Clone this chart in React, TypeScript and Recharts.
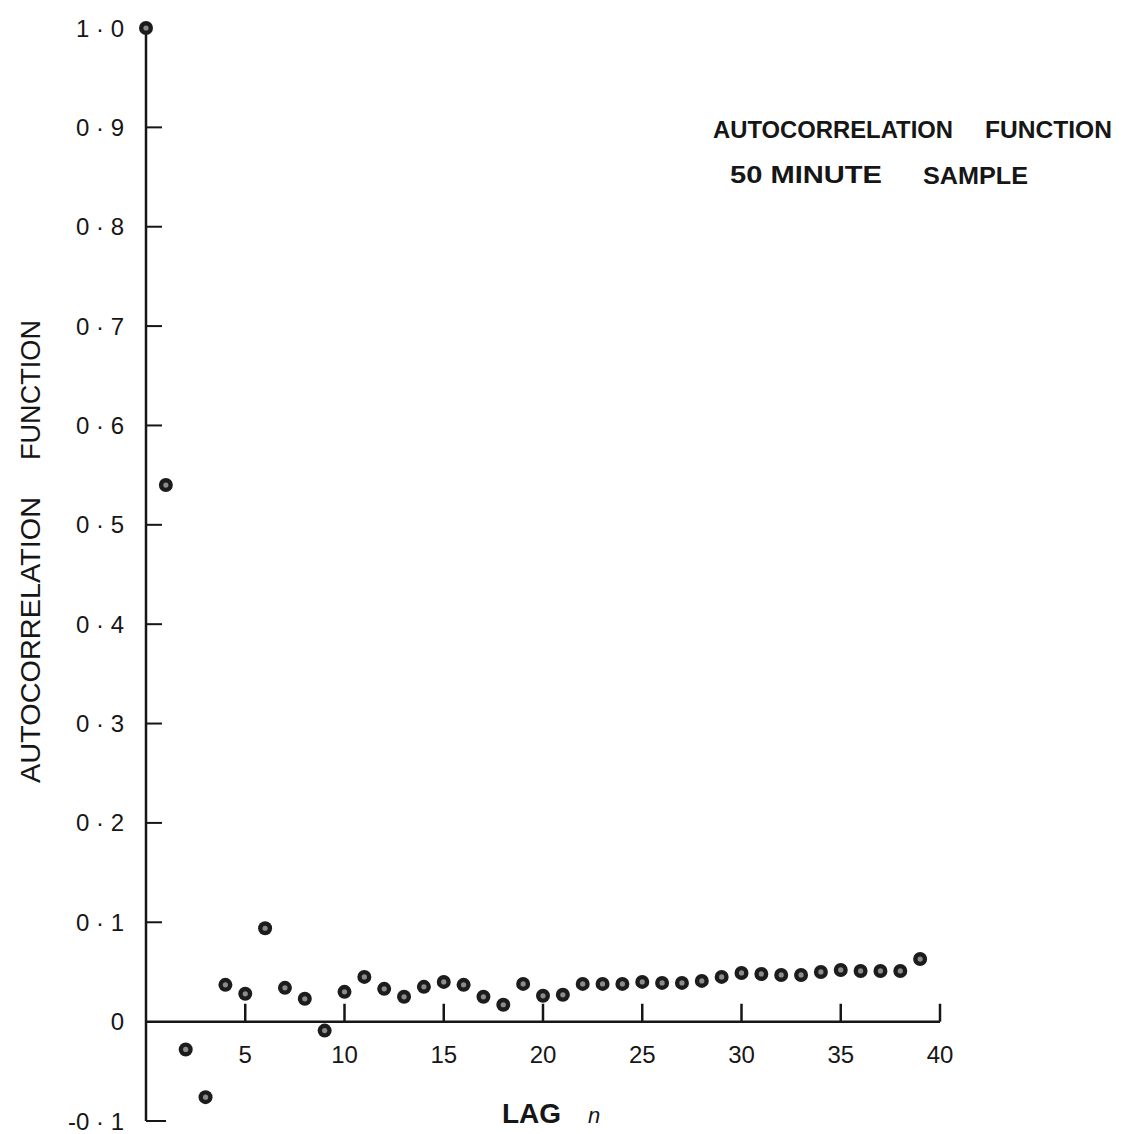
import React from 'react';
import {
  ScatterChart,
  Scatter,
  XAxis,
  YAxis,
  ReferenceLine,
} from 'recharts';

// lag n, 0..39
const LAGS = [
  0, 1, 2, 3, 4, 5, 6, 7, 8, 9,
  10, 11, 12, 13, 14, 15, 16, 17, 18, 19,
  20, 21, 22, 23, 24, 25, 26, 27, 28, 29,
  30, 31, 32, 33, 34, 35, 36, 37, 38, 39,
];

// autocorrelation
const ACF = [
  1.0, 0.54, -0.028, -0.076, 0.037, 0.028, 0.094, 0.034, 0.023, -0.009,
  0.03, 0.045, 0.033, 0.025, 0.035, 0.04, 0.037, 0.025, 0.017, 0.038,
  0.026, 0.027, 0.038, 0.038, 0.038, 0.04, 0.039, 0.039, 0.041, 0.045,
  0.049, 0.048, 0.047, 0.047, 0.05, 0.052, 0.051, 0.051, 0.051, 0.063,
];

const Y_TICKS = [-0.1, 0, 0.1, 0.2, 0.3, 0.4, 0.5, 0.6, 0.7, 0.8, 0.9, 1.0];
const Y_TICK_LABELS = [
  '-0 · 1', '0', '0 · 1', '0 · 2', '0 · 3', '0 · 4',
  '0 · 5', '0 · 6', '0 · 7', '0 · 8', '0 · 9', '1 · 0',
];
const X_TICKS = [5, 10, 15, 20, 25, 30, 35, 40];

const FONT = '"Liberation Sans", Arial, sans-serif';
const INK = '#161616';

const data = LAGS.map((lag, i) => ({ lag, value: ACF[i] }));

const YTick = ({ x, y, payload, index }: any) => {
  const v = payload.value;
  const len = v === -0.1 ? 20 : v === 0 || v === 1 ? 0 : 16;
  return (
    <g>
      {len > 0 && (
        <line x1={x} x2={x + len} y1={y} y2={y} stroke={INK} strokeWidth={2} />
      )}
      <text
        x={x - 22}
        y={y}
        textAnchor="end"
        dominantBaseline="central"
        fill={INK}
        fontFamily={FONT}
        fontSize={24}
      >
        {Y_TICK_LABELS[index]}
      </text>
    </g>
  );
};

const DotMark = ({ cx, cy }: any) => (
  <g>
    <circle cx={cx} cy={cy} r={7} fill="#1c1c1c" />
    <circle cx={cx} cy={cy} r={2.6} fill="#8c8c8c" />
  </g>
);

export default function App() {
  return (
    <div style={{ position: 'absolute', left: 0, top: 0, width: 1125, height: 1134, background: '#fff' }}>
      <ScatterChart
        width={1125}
        height={1134}
        margin={{ top: 28, right: 185, bottom: 13, left: 0 }}
      >
        <XAxis type="number" dataKey="lag" domain={[0, 40]} hide height={0} />
        <YAxis
          type="number"
          dataKey="value"
          domain={[-0.1, 1.0]}
          ticks={Y_TICKS}
          interval={0}
          width={146}
          tickSize={0}
          tickMargin={0}
          tickLine={false}
          axisLine={{ stroke: INK, strokeWidth: 2.5 }}
          tick={<YTick />}
        />
        <ReferenceLine
          segment={[{ x: 0, y: 0 }, { x: 40, y: 0 }]}
          stroke={INK}
          strokeWidth={2.5}
          ifOverflow="visible"
        />
        {X_TICKS.map((t) => (
          <ReferenceLine
            key={t}
            segment={[{ x: t, y: 0 }, { x: t, y: 0.018 }]}
            stroke={INK}
            strokeWidth={2.5}
            ifOverflow="visible"
            label={{
              value: String(t),
              position: 'bottom',
              offset: 24,
              fill: INK,
              fontSize: 24,
              fontFamily: FONT,
            }}
          />
        ))}
        <Scatter data={data} dataKey="value" shape={<DotMark />} isAnimationActive={false} />
      </ScatterChart>

      <svg
        width={1125}
        height={1134}
        style={{ position: 'absolute', left: 0, top: 0, pointerEvents: 'none' }}
      >
        <g fill={INK} fontFamily={FONT} fontWeight="bold" fontSize={23}>
          <text x={713} y={138} textLength={240} lengthAdjust="spacingAndGlyphs">AUTOCORRELATION</text>
          <text x={985} y={138} textLength={127} lengthAdjust="spacingAndGlyphs">FUNCTION</text>
          <text x={730} y={183} textLength={152} lengthAdjust="spacingAndGlyphs">50 MINUTE</text>
          <text x={923} y={184} textLength={105} lengthAdjust="spacingAndGlyphs">SAMPLE</text>
        </g>
        <g transform="translate(40, 783) rotate(-90)" fill={INK} fontFamily={FONT} fontSize={28}>
          <text x={0} y={0} textLength={286} lengthAdjust="spacingAndGlyphs">AUTOCORRELATION</text>
          <text x={323} y={0} textLength={140} lengthAdjust="spacingAndGlyphs">FUNCTION</text>
        </g>
        <text x={502} y={1123} fill={INK} fontFamily={FONT} fontWeight="bold" fontSize={28}>LAG</text>
        <text x={588} y={1123} fill={INK} fontFamily={FONT} fontStyle="italic" fontSize={22}>n</text>
      </svg>
    </div>
  );
}
